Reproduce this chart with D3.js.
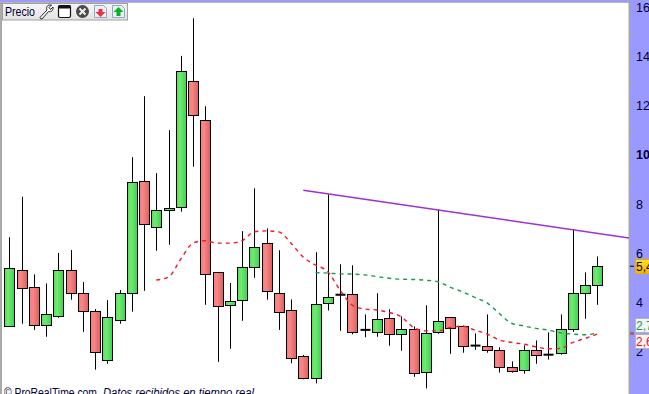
<!DOCTYPE html>
<html>
<head>
<meta charset="utf-8">
<script src="https://cdn.jsdelivr.net/npm/d3@7"></script>
<style>
html, body { margin: 0; padding: 0; background: #fff; overflow: hidden; }
svg { display: block; }
text { font-family: "Liberation Sans", sans-serif; }
</style>
</head>
<body>
<div id="chart"></div>
<script>
// candles
var opens  = [3.01,5.30,4.61,3.05,3.41,5.30,4.37,3.63,1.66,3.27,4.37,8.93,7.05,7.78,7.86,13.00,11.41,5.22,3.88,4.08,5.43,6.40,4.37,3.67,1.80,0.91,3.96,4.31,4.33,2.88,2.80,3.35,2.70,2.90,1.15,2.78,3.39,3.02,2.24,2.21,2.05,1.36,1.23,2.05,1.87,1.91,2.90,4.37,4.69];
var closes = [5.38,4.57,3.05,3.51,5.30,4.37,3.63,1.97,3.39,4.37,8.89,7.18,7.74,7.86,13.40,11.61,5.14,3.83,4.04,5.43,6.24,4.45,3.59,1.72,0.91,3.92,4.20,4.31,2.78,2.88,3.31,2.70,2.90,1.11,2.74,3.23,2.94,2.21,2.24,2.05,1.36,1.19,2.05,1.84,1.87,2.90,4.37,4.69,5.47];
var highs  = [6.65,8.30,5.14,4.77,6.01,6.13,4.83,3.73,4.09,4.50,9.91,12.39,9.26,11.01,14.03,15.56,11.98,5.22,4.79,6.90,8.64,7.01,6.12,4.12,1.86,6.04,8.39,5.55,5.51,3.51,4.37,3.72,3.43,3.02,3.88,7.79,3.39,3.06,2.74,3.51,2.17,1.60,2.25,2.45,2.78,3.51,6.98,5.22,5.87];
var lows   = [3.01,3.13,2.88,2.60,3.37,4.11,2.80,1.26,1.50,3.13,3.62,4.47,6.10,6.34,7.69,9.52,3.90,1.58,2.11,3.25,5.00,4.11,2.88,1.52,0.87,0.70,3.67,2.84,2.70,2.58,2.60,2.24,2.03,0.97,0.50,2.72,1.91,1.95,2.07,1.95,1.14,1.14,1.10,1.50,1.67,1.87,2.80,3.33,3.90];

// moving averages, first value sits on candle redStart / greenStart
var redStart = 12;
var redAvg = [4.91,5.03,5.76,6.41,6.51,6.41,6.41,6.51,6.87,6.91,6.87,6.41,5.84,5.52,5.25,4.50,3.89,3.73,3.69,3.59,3.41,2.98,2.84,2.84,2.98,3.03,2.87,2.71,2.47,2.37,2.30,2.19,2.11,2.13,2.37,2.53,2.71];
var greenStart = 25;
var greenAvg = [5.21,5.19,5.16,5.15,5.12,5.05,4.98,4.94,4.93,4.90,4.84,4.61,4.43,4.20,3.98,3.55,3.15,3.04,2.94,2.87,2.76,2.71,2.68,2.76];

// hand drawn trend line
var trendIdx = [24, 50.6];
var trendVal = [8.56, 6.62];

var majorTicks = [2,4,6,8,10,12,14,16];
var minorTicks = [1,3,5,7,9,11,13,15];

var width = 649, height = 394, plotRight = 629;

var x = d3.scaleLinear().domain([0,48]).range([9.3,597.3]);
var y = d3.scaleLinear().domain([2,16]).range([351.5,7.5]);

var svg = d3.select("#chart").append("svg").attr("width",width).attr("height",height);

var defs = svg.append("defs");
function gradient(id, c1, c2, c3){
	var g = defs.append("linearGradient").attr("id",id);
	g.append("stop").attr("offset","0%").attr("stop-color",c1);
	g.append("stop").attr("offset","35%").attr("stop-color",c2);
	g.append("stop").attr("offset","100%").attr("stop-color",c3);
}
gradient("up","#58dc58","#70ec70","#3fcf55");
gradient("down","#f08080","#f98686","#d95f5f");
defs.append("clipPath").attr("id","plot").append("rect")
	.attr("x",2).attr("y",3).attr("width",plotRight-2).attr("height",height-3);
var gold = defs.append("linearGradient").attr("id","gold").attr("x2",0).attr("y2",1);
gold.append("stop").attr("offset","0%").attr("stop-color","#ffdf20");
gold.append("stop").attr("offset","100%").attr("stop-color","#f5b400");
var tool = defs.append("linearGradient").attr("id","tool").attr("x2",0).attr("y2",1);
tool.append("stop").attr("offset","0%").attr("stop-color","#f6f6f6");
tool.append("stop").attr("offset","100%").attr("stop-color","#e2e2e2");

// frame
svg.append("rect").attr("width",width).attr("height",2).attr("fill","#9c9cf8");
svg.append("rect").attr("x",0).attr("y",2).attr("width",2).attr("height",height).attr("fill","#aaaaaa");
svg.append("rect").attr("x",2).attr("y",2).attr("width",plotRight-2).attr("height",1).attr("fill","#b5b5b5");
svg.append("rect").attr("x",plotRight).attr("y",2).attr("width",width-plotRight).attr("height",height).attr("fill","#9999ff");
svg.append("rect").attr("x",plotRight-0.5).attr("y",2).attr("width",1.5).attr("height",height).attr("fill","#a8a8a8");

var plot = svg.append("g").attr("clip-path","url(#plot)");

// candles
var candles = d3.range(opens.length);
plot.selectAll(".wick").data(candles).enter().append("line")
	.attr("class","wick")
	.attr("x1",function(i){return Math.round(x(i))+0.5;})
	.attr("x2",function(i){return Math.round(x(i))+0.5;})
	.attr("y1",function(i){return y(highs[i]);})
	.attr("y2",function(i){return y(lows[i]);})
	.attr("stroke","#000").attr("stroke-width",1);

plot.selectAll(".body").data(candles.filter(function(i){return opens[i]!=closes[i];})).enter().append("rect")
	.attr("class","body")
	.attr("x",function(i){return Math.round(x(i))-4.5;})
	.attr("width",10)
	.attr("y",function(i){return Math.round(y(Math.max(opens[i],closes[i])))+0.5;})
	.attr("height",function(i){return Math.max(1,Math.round(Math.abs(y(opens[i])-y(closes[i]))));})
	.attr("fill",function(i){return closes[i]>opens[i] ? "url(#up)" : "url(#down)";})
	.attr("stroke","#000").attr("stroke-width",1);

// open == close
plot.selectAll(".doji").data(candles.filter(function(i){return opens[i]==closes[i];})).enter().append("line")
	.attr("class","doji")
	.attr("x1",function(i){return Math.round(x(i))-4.5;})
	.attr("x2",function(i){return Math.round(x(i))+5.5;})
	.attr("y1",function(i){return y(opens[i]);})
	.attr("y2",function(i){return y(opens[i]);})
	.attr("stroke","#000").attr("stroke-width",2);

var avgLine = d3.line().curve(d3.curveMonotoneX)
	.x(function(d){return x(d[0]);})
	.y(function(d){return y(d[1]);});

plot.append("path")
	.attr("d",avgLine(greenAvg.map(function(v,i){return [greenStart+i,v];})))
	.attr("fill","none").attr("stroke","#159a50").attr("stroke-width",1.4).attr("stroke-dasharray","4,4");
plot.append("path")
	.attr("d",avgLine(redAvg.map(function(v,i){return [redStart+i,v];})))
	.attr("fill","none").attr("stroke","#f01828").attr("stroke-width",1.4).attr("stroke-dasharray","4,4");

plot.append("line")
	.attr("x1",x(trendIdx[0])).attr("y1",y(trendVal[0]))
	.attr("x2",x(trendIdx[1])).attr("y2",y(trendVal[1]))
	.attr("stroke","#a030d0").attr("stroke-width",1.5);

// price axis
var axis = svg.append("g").attr("transform","translate("+(plotRight+1)+",0)")
	.call(d3.axisRight(y).tickValues(majorTicks).tickSize(4).tickPadding(2));
axis.select(".domain").remove();
axis.selectAll("line").attr("stroke","#a8a8a8");
axis.selectAll("text")
	.attr("fill","#000033")
	.style("font-size","12.5px")
	.style("font-weight",function(d){return d==10 ? "bold" : "normal";});
var minor = svg.append("g").attr("transform","translate("+(plotRight+1)+",0)")
	.call(d3.axisRight(y).tickValues(minorTicks).tickSize(3).tickFormat(""));
minor.select(".domain").remove();
minor.selectAll("line").attr("stroke","#a8a8a8");

// last value tags
function tag(value, top, h, fill, color, label, mark){
	svg.append("line").attr("x1",plotRight+1).attr("x2",plotRight+5)
		.attr("y1",y(value)).attr("y2",y(value)).attr("stroke",mark).attr("stroke-width",1);
	svg.append("rect").attr("x",635.5).attr("y",top+0.5).attr("width",20).attr("height",h)
		.attr("fill",fill).attr("stroke",fill=="url(#gold)" ? "#e0b000" : "#b5b5b5");
	svg.append("text").attr("x",636).attr("y",top+h-2.5).attr("fill",color)
		.style("font-size","12px").text(label);
}
tag(closes[48], 259, 14, "url(#gold)", "#000", "5,4", "#000");
tag(greenAvg[greenAvg.length-1], 318, 14, "#f4f4f4", "#159a50", "2,7", "#159a50");
tag(redAvg[redAvg.length-1], 334, 14, "#f4f4f4", "#f01020", "2,6", "#f01020");

// toolbar
var bar = svg.append("g");
bar.append("rect").attr("x",2.5).attr("y",3.5).attr("width",125).attr("height",16.5)
	.attr("fill","url(#tool)").attr("stroke","#a0a0a0");
bar.append("text").attr("x",5).attr("y",15.5).attr("fill","#000033").style("font-size","12px")
	.attr("textLength",30).attr("lengthAdjust","spacingAndGlyphs").text("Precio");
// wrench
bar.append("path").attr("d","M41,19 L40,17.5 L47,10 C45.5,6.5 48,4.5 51.5,5 L49,7.5 L50.5,9.5 L53,7 C53.5,10.5 51,12.5 48.5,11.5 L42,19 Z")
	.attr("fill","#fff").attr("stroke","#222").attr("stroke-width",1);
// window
bar.append("rect").attr("x",58.5).attr("y",5.5).attr("width",12).attr("height",12).attr("rx",1.5)
	.attr("fill","#fff").attr("stroke","#111").attr("stroke-width",1.2);
bar.append("rect").attr("x",58.5).attr("y",5.5).attr("width",12).attr("height",3).attr("fill","#111");
// close
bar.append("circle").attr("cx",82.5).attr("cy",11.5).attr("r",6.5).attr("fill","#4a4a4a");
bar.append("path").attr("d","M79.5,8.5 L85.5,14.5 M85.5,8.5 L79.5,14.5").attr("stroke","#eee").attr("stroke-width",2);
// export / import
function docIcon(x0, color, d){
	bar.append("path").attr("d","M"+x0+",5.5 h9 l3,3 v9 h-12 Z").attr("fill","#e8f0fa").attr("stroke","#8fa8c8");
	bar.append("path").attr("d",d).attr("fill",color);
}
docIcon(94.5,"#f03040","M98.5,9 h4 v3 h3 l-5,5 l-5,-5 h3 Z");
docIcon(112.5,"#10b020","M118.5,7 l5,5 h-3 v4 h-4 v-4 h-3 Z");

// footer, cut by the window edge as in the screenshot
svg.append("text").attr("x",4).attr("y",397).attr("fill","#000033").style("font-size","12px")
	.attr("textLength",93).attr("lengthAdjust","spacingAndGlyphs").text("© ProRealTime.com");
svg.append("text").attr("x",103).attr("y",397).attr("fill","#000033").style("font-size","12px").style("font-style","italic")
	.attr("textLength",151).attr("lengthAdjust","spacingAndGlyphs").text("Datos recibidos en tiempo real");
</script>
</body>
</html>
